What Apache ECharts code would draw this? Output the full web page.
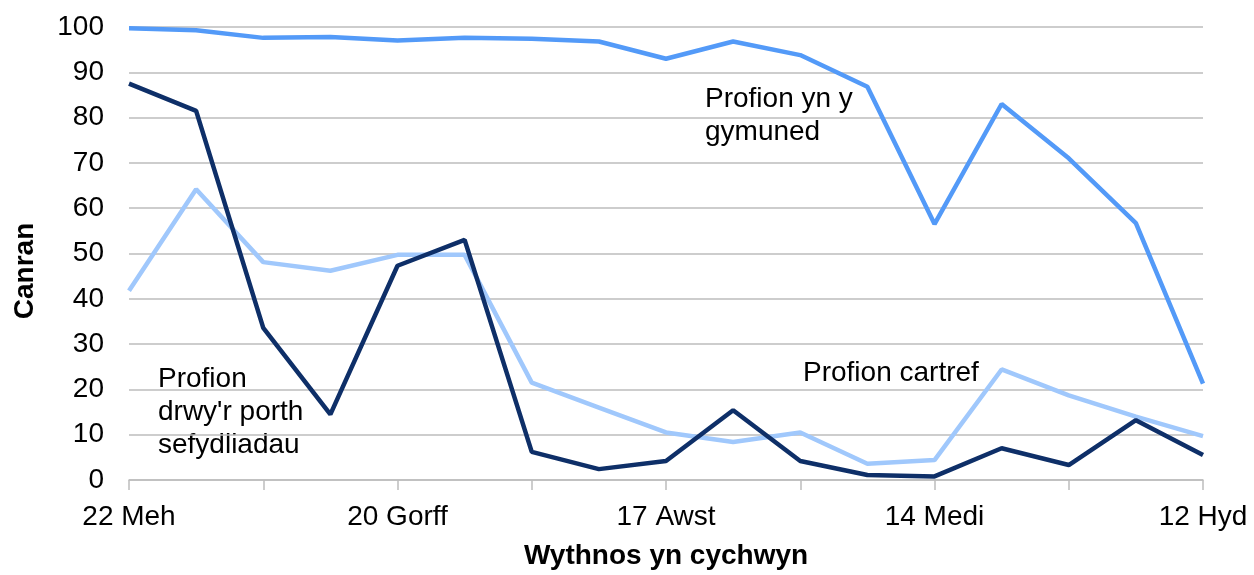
<!DOCTYPE html>
<html>
<head>
<meta charset="utf-8">
<script src="https://cdn.jsdelivr.net/npm/echarts@6/dist/echarts.min.js"></script>
<style>html,body{margin:0;padding:0;background:#fff;}#c{width:1254px;height:575px;}</style>
</head>
<body>
<div id="c"></div>
<script>
const categories = ['22 Meh','29 Meh','6 Gorff','13 Gorff','20 Gorff','27 Gorff','3 Awst','10 Awst','17 Awst','24 Awst','31 Awst','7 Medi','14 Medi','21 Medi','28 Medi','5 Hyd','12 Hyd'];
const communityTests = [99.7, 99.3, 97.6, 97.8, 97.0, 97.6, 97.4, 96.8, 93.0, 96.8, 93.8, 86.8, 56.5, 83.0, 71.0, 56.7, 21.3];
const institutionPortal = [87.5, 81.5, 33.6, 14.5, 47.3, 53.0, 6.2, 2.4, 4.2, 15.4, 4.2, 1.1, 0.8, 7.0, 3.3, 13.2, 5.5];
const homeTests = [41.8, 64.2, 48.1, 46.2, 49.7, 49.7, 21.5, 16.0, 10.5, 8.4, 10.5, 3.6, 4.4, 24.4, 18.7, 14.0, 9.7];
const yTicks = [0, 10, 20, 30, 40, 50, 60, 70, 80, 90, 100];

const FONT = '"Liberation Sans", Arial, sans-serif';
const chart = echarts.init(document.getElementById('c'));
chart.setOption({
  animation: false,
  backgroundColor: '#ffffff',
  grid: { left: 129, right: 51, top: 27, bottom: 93, containLabel: false },
  xAxis: {
    type: 'category',
    data: categories,
    boundaryGap: false,
    name: 'Wythnos yn cychwyn',
    nameLocation: 'middle',
    nameGap: 62,
    nameTextStyle: { fontFamily: FONT, fontSize: 28, fontWeight: 'bold', color: '#000' },
    axisLine: { lineStyle: { color: '#bdbdbd', width: 1.5 } },
    axisTick: { show: true, interval: 1, length: 10, lineStyle: { color: '#bdbdbd', width: 1.5 } },
    axisLabel: { interval: 3, margin: 23, fontFamily: FONT, fontSize: 28, color: '#000' },
    splitLine: { show: false }
  },
  yAxis: {
    type: 'value',
    min: yTicks[0],
    max: yTicks[yTicks.length - 1],
    interval: 10,
    axisLine: { show: false },
    axisTick: { show: false },
    axisLabel: { margin: 25, fontFamily: FONT, fontSize: 28, color: '#000' },
    splitLine: { lineStyle: { color: '#bdbdbd', width: 1.5 } }
  },
  series: [
    { name: 'Profion cartref', type: 'line', data: homeTests, symbol: 'none', lineStyle: { color: '#a0c8fc', width: 4.5 }, itemStyle: { color: '#a0c8fc' } },
    { name: "Profion drwy'r porth sefydliadau", type: 'line', data: institutionPortal, symbol: 'none', lineStyle: { color: '#0e2f68', width: 4.5 }, itemStyle: { color: '#0e2f68' } },
    { name: 'Profion yn y gymuned', type: 'line', data: communityTests, symbol: 'none', lineStyle: { color: '#539af8', width: 4.5 }, itemStyle: { color: '#539af8' } }
  ],
  graphic: [
    { type: 'text', x: 25, y: 271, rotation: Math.PI / 2, style: { text: 'Canran', font: 'bold 28px ' + FONT, fill: '#000', align: 'center', verticalAlign: 'middle' } },
    { type: 'text', x: 705, y: 83, style: { text: 'Profion yn y\ngymuned', font: '28px ' + FONT, lineHeight: 33, fill: '#000', align: 'left', verticalAlign: 'top' } },
    { type: 'text', x: 158, y: 363, style: { text: "Profion\ndrwy'r porth\nsefydliadau", font: '28px ' + FONT, lineHeight: 33, fill: '#000', align: 'left', verticalAlign: 'top' } },
    { type: 'text', x: 803, y: 357, style: { text: 'Profion cartref', font: '28px ' + FONT, lineHeight: 33, fill: '#000', align: 'left', verticalAlign: 'top' } }
  ]
});
</script>
</body>
</html>
